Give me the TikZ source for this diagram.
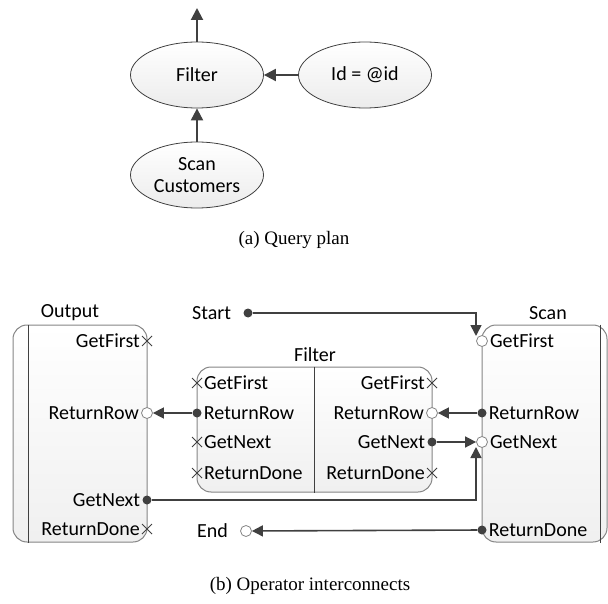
\documentclass[tikz,border=0pt]{standalone}
\usepackage{fontspec}
\setmainfont{Carlito}
\newfontfamily\capfont{Liberation Serif}
\usetikzlibrary{arrows.meta,shapes.geometric,shapes.misc,positioning}
\definecolor{ink}{HTML}{404040}
\definecolor{rim}{HTML}{858585}
\tikzset{
  planop/.style={ellipse, draw=ink, line width=0.8pt, top color=white, bottom color=gray!15,
    minimum width=133pt, minimum height=66pt, inner sep=0pt, align=center},
  flow/.style={draw=ink, line width=2pt, -{Triangle[length=12pt,width=12pt]}},
  opbox/.style={rectangle, rounded corners=14pt, draw=rim, line width=1pt,
    top color=white, bottom color=gray!12, inner sep=0pt},
  split/.style={draw=ink, line width=1.5pt},
  link/.style={draw=ink, line width=1.6pt, -{Triangle[length=11pt,width=11pt]}},
  xport/.style={cross out, draw=ink, line width=1pt, minimum size=9pt, inner sep=0pt},
  dport/.style={circle, fill=ink, minimum size=9pt, inner sep=0pt},
  oport/.style={circle, draw=rim, fill=white, line width=0.8pt, minimum size=11pt, inner sep=0pt},
  plabel/.style={inner sep=0pt},
  caption/.style={font=\capfont\fontsize{19}{22}\selectfont}
}
\begin{document}
\begin{tikzpicture}[x=1pt, y=-1pt, font=\fontsize{20}{24}\selectfont]
\useasboundingbox (0,0) rectangle (608,604);

% query plan
\node[planop] (pfilter) at (197,75) {Filter};
\node[planop] (pid) at (365,75) {Id = @id};
\node[planop] (pscan) at (197,175) {Scan\\[-2pt]Customers};
\coordinate (ptop) at (197,8);
\draw[flow] (pfilter) -- (ptop);
\draw[flow] (pid) -- (pfilter);
\draw[flow] (pscan) -- (pfilter);
\node[caption] (capa) at (294,240) {(a) Query plan};

% operator boxes
\node[opbox, minimum width=134pt, minimum height=217pt] (outbox) at (80,433.5) {};
\node[opbox, minimum width=235pt, minimum height=125pt] (fbox) at (314.5,429.5) {};
\node[opbox, minimum width=125pt, minimum height=217pt] (scanbox) at (544.5,433.5) {};
\draw[split] ([xshift=16pt]outbox.north west) -- ([xshift=16pt]outbox.south west);
\draw[split] (fbox.north) -- (fbox.south);
\draw[split] ([xshift=-7pt]scanbox.north east) -- ([xshift=-7pt]scanbox.south east);
\node (outname) at (70,313) {Output};
\node (fname) at (315,355) {Filter};
\node (scanname) at (548,313) {Scan};

% output ports
\node[xport] (oGF) at (147,341) {};
\node[oport] (oRR) at (147,413) {};
\node[dport] (oGN) at (147,500) {};
\node[xport] (oRD) at (147,529) {};
\node[plabel, left=2pt of oGF] (oGFt) {GetFirst};
\node[plabel, left=2pt of oRR] (oRRt) {ReturnRow};
\node[plabel, left=2pt of oGN] (oGNt) {GetNext};
\node[plabel, left=2pt of oRD] (oRDt) {ReturnDone};

% filter ports, left side
\node[xport] (fL1) at (197,383) {};
\node[dport] (fL2) at (197,413) {};
\node[xport] (fL3) at (197,442) {};
\node[xport] (fL4) at (197,473) {};
\node[plabel, right=2pt of fL1] (fL1t) {GetFirst};
\node[plabel, right=2pt of fL2] (fL2t) {ReturnRow};
\node[plabel, right=2pt of fL3] (fL3t) {GetNext};
\node[plabel, right=2pt of fL4] (fL4t) {ReturnDone};

% filter ports, right side
\node[xport] (fR1) at (432,383) {};
\node[oport] (fR2) at (432,413) {};
\node[dport] (fR3) at (432,442) {};
\node[xport] (fR4) at (432,473) {};
\node[plabel, left=2pt of fR1] (fR1t) {GetFirst};
\node[plabel, left=2pt of fR2] (fR2t) {ReturnRow};
\node[plabel, left=2pt of fR3] (fR3t) {GetNext};
\node[plabel, left=2pt of fR4] (fR4t) {ReturnDone};

% scan ports
\node[oport] (sGF) at (482,341) {};
\node[dport] (sRR) at (482,413) {};
\node[oport] (sGN) at (482,442) {};
\node[dport] (sRD) at (482,530) {};
\node[plabel, right=2pt of sGF] (sGFt) {GetFirst};
\node[plabel, right=2pt of sRR] (sRRt) {ReturnRow};
\node[plabel, right=2pt of sGN] (sGNt) {GetNext};
\node[plabel, right=2pt of sRD] (sRDt) {ReturnDone};

% start and end
\node[dport] (sdot) at (248,313) {};
\node[plabel, left=12pt of sdot] (startt) {Start};
\node[oport] (endc) at (246,531) {};
\node[plabel, left=12pt of endc] (endt) {End};

% wiring
\coordinate (c1) at (476,336);
\coordinate (c2) at (476,447);
\draw[link] (sdot) -| (c1);
\draw[link] (fL2) -- (oRR);
\draw[link] (sRR) -- (fR2);
\draw[link] (fR3) -- (sGN);
\draw[link] (oGN) -| (c2);
\draw[link] (sRD) -- (endc);

\node[caption] (capb) at (310,586) {(b) Operator interconnects};
\end{tikzpicture}
\end{document}
